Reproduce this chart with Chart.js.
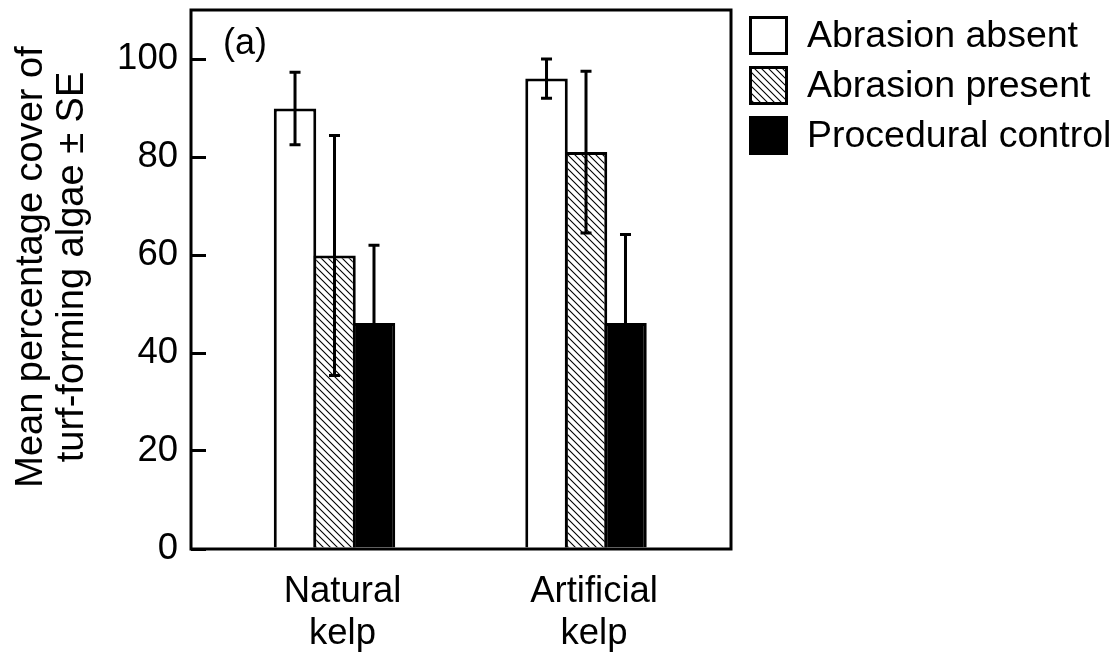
<!DOCTYPE html>
<html>
<head>
<meta charset="utf-8">
<script src="https://cdn.jsdelivr.net/npm/chart.js@4.4.1/dist/chart.umd.min.js"></script>
<style>
  html, body { margin: 0; padding: 0; background: #fff; }
  #wrap { width: 1119px; height: 657px; position: relative; }
</style>
</head>
<body>
<div id="wrap"><canvas id="c"></canvas></div>
<script>
// Groups along the x axis (multi-line labels)
const groups = [['Natural', 'kelp'], ['Artificial', 'kelp']];
const seriesNames = ['Abrasion absent', 'Abrasion present', 'Procedural control'];

// Mean cover and standard error per group
const absentMean  = [89.9, 96.0];
const absentSE    = [7.4, 4.0];
const presentMean = [59.9, 81.0];
const presentSE   = [24.5, 16.5];
const controlMean = [46.1, 46.1];
const controlSE   = [15.9, 18.1];

const yTicks = [0, 20, 40, 60, 80, 100];
const yTitle = ['Mean percentage cover of', 'turf-forming algae \u00b1 SE'];
const panelLabel = '(a)';

const FONT = '"Liberation Sans", Arial, Helvetica, sans-serif';
Chart.defaults.font.family = FONT;
Chart.defaults.color = '#000';

const canvas = document.getElementById('c');
const ctx0 = canvas.getContext('2d');

// Back-slash hatch fill
function makeHatch() {
  const s = 7;
  const c = document.createElement('canvas');
  c.width = s; c.height = s;
  const g = c.getContext('2d');
  g.fillStyle = '#fff';
  g.fillRect(0, 0, s, s);
  g.strokeStyle = '#000';
  g.lineWidth = 1.1;
  g.beginPath();
  g.moveTo(-1, -1); g.lineTo(s + 1, s + 1);
  g.moveTo(-1, s - 1); g.lineTo(1, s + 1);
  g.moveTo(s - 1, -1); g.lineTo(s + 1, 1);
  g.stroke();
  return ctx0.createPattern(c, 'repeat');
}
const hatch = makeHatch();

const toPoints = arr => arr.map((v, i) => ({ x: i + 1, y: v }));

const datasets = [
  { label: seriesNames[0], data: toPoints(absentMean),  errors: absentSE,  backgroundColor: '#fff' },
  { label: seriesNames[1], data: toPoints(presentMean), errors: presentSE, backgroundColor: hatch },
  { label: seriesNames[2], data: toPoints(controlMean), errors: controlSE, backgroundColor: '#000' }
].map(d => Object.assign(d, {
  borderColor: '#000',
  borderWidth: 3,
  borderSkipped: 'start',
  categoryPercentage: 0.471,
  barPercentage: 1.076
}));

// Error bars: whisker with caps, drawn over the bars
const errorBars = {
  id: 'errorBars',
  afterDatasetsDraw(chart) {
    const ctx = chart.ctx;
    const y = chart.scales.y;
    ctx.save();
    ctx.strokeStyle = '#000';
    ctx.lineWidth = 3;
    ctx.lineCap = 'butt';
    chart.data.datasets.forEach((ds, di) => {
      const meta = chart.getDatasetMeta(di);
      meta.data.forEach((bar, i) => {
        const m = ds.data[i].y, e = ds.errors[i];
        const yt = y.getPixelForValue(m + e);
        const yb = y.getPixelForValue(m - e);
        const x = bar.x, h = 5.5;
        ctx.beginPath();
        ctx.moveTo(x, yt); ctx.lineTo(x, yb);
        ctx.moveTo(x - h, yt); ctx.lineTo(x + h, yt);
        ctx.moveTo(x - h, yb); ctx.lineTo(x + h, yb);
        ctx.stroke();
      });
    });
    ctx.restore();
  }
};

// Box round the plotting area
const frame = {
  id: 'frame',
  afterDatasetsDraw(chart) {
    const { left, top, right, bottom } = chart.chartArea;
    const ctx = chart.ctx;
    ctx.save();
    ctx.strokeStyle = '#000';
    ctx.lineWidth = 3;
    ctx.strokeRect(left, top, right - left, bottom - top);
    ctx.restore();
  }
};

// Key at the right, the panel letter and the two-line y-axis title
const keyAndLetter = {
  id: 'keyAndLetter',
  afterDraw(chart) {
    const ctx = chart.ctx;
    const area = chart.chartArea;
    ctx.save();
    ctx.fillStyle = '#000';
    ctx.textAlign = 'left';

    ctx.font = '36px ' + FONT;
    ctx.textBaseline = 'alphabetic';
    ctx.fillText(panelLabel, area.left + 32, 54);

    // y-axis title, rotated
    ctx.save();
    ctx.font = '38px ' + FONT;
    ctx.textAlign = 'center';
    ctx.textBaseline = 'middle';
    ctx.translate(0, 267);
    ctx.rotate(-Math.PI / 2);
    yTitle.forEach((t, i) => ctx.fillText(t, 0, 32 + i * 41));
    ctx.restore();

    // key
    ctx.font = '37.5px ' + FONT;
    const bx = area.right + 18, size = 39, step = 50, y0 = 16;
    chart.data.datasets.forEach((ds, i) => {
      const by = y0 + i * step;
      ctx.fillStyle = ds.backgroundColor;
      ctx.fillRect(bx, by, size, size);
      ctx.strokeStyle = '#000';
      ctx.lineWidth = 3;
      ctx.strokeRect(bx + 1.5, by + 1.5, size - 3, size - 3);
      ctx.fillStyle = '#000';
      ctx.textBaseline = 'middle';
      ctx.fillText(ds.label, bx + size + 19, by + size / 2 + 1);
    });
    ctx.restore();
  }
};

new Chart(canvas, {
  type: 'bar',
  data: { datasets },
  plugins: [errorBars, frame, keyAndLetter],
  options: {
    responsive: true,
    maintainAspectRatio: false,
    devicePixelRatio: 1,
    animation: false,
    layout: { padding: { top: 10, right: 388, left: 0, bottom: 0 } },
    plugins: { legend: { display: false }, tooltip: { enabled: false } },
    scales: {
      x: {
        type: 'linear',
        offset: false,
        min: 0.4294,
        max: 2.5765,
        grid: { display: false, offset: false },
        border: { display: false },
        afterBuildTicks: s => { s.ticks = groups.map((g, i) => ({ value: i + 1 })); },
        afterFit: s => { s.height = 108; s.paddingLeft = 0; s.paddingRight = 0; },
        ticks: {
          autoSkip: false,
          maxRotation: 0,
          padding: 14,
          labelOffset: 8,
          font: { size: 36.5, lineHeight: 1.15 },
          color: '#000',
          callback: v => groups[Math.round(v) - 1]
        }
      },
      y: {
        min: 0,
        max: 110,
        grid: { drawOnChartArea: false, drawTicks: true, tickLength: -15, lineWidth: 3, color: '#000' },
        border: { display: false },
        afterBuildTicks: s => { s.ticks = yTicks.map(v => ({ value: v })); },
        afterFit: s => { s.width = 191; s.paddingTop = 0; s.paddingBottom = 0; },
        ticks: { padding: 28, font: { size: 36.5 }, color: '#000' }
      }
    }
  }
});
</script>
</body>
</html>
